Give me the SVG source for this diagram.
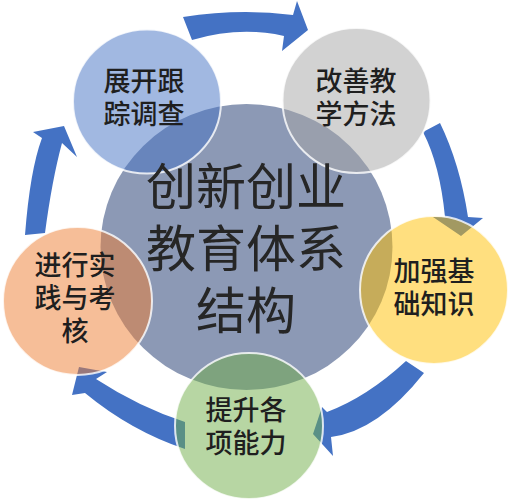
<svg xmlns="http://www.w3.org/2000/svg" width="511" height="500" viewBox="0 0 511 500">
<style>
.arrow{fill:#4472c4;}
.node{fill-opacity:0.5;stroke:#ffffff;stroke-width:2;stroke-opacity:0.8;}
.ct{font-family:"Noto Sans CJK SC","Noto Sans",sans-serif;font-size:50px;fill:#262626;text-anchor:middle;}
.nt{font-family:"Noto Sans CJK SC","Noto Sans",sans-serif;font-size:27px;font-weight:500;fill:#1f1f1f;text-anchor:middle;}
</style>
<rect width="511" height="500" fill="#ffffff"/>
<g id="connectors">
<path class="arrow" d="M183,17 Q240,8 293,15 L297,1 L308,30 L282,51 L284,36 Q240,26 192,40 Z"/>
<path class="arrow" d="M423,132 Q440,165 445,217 L433,217 L461,236 L483,218 L468,217 Q460,164 440,123 Z"/>
<path class="arrow" d="M406,361 Q367,397 327,412 L322,407 L313,434 L333,456 L331,437 Q378,431 424,373 Z"/>
<path class="arrow" d="M185,422 Q139,407 96,379 L107,372 L79,367 L72,395 L85,393 Q131,431 185,449 Z"/>
<path class="arrow" d="M25,235 Q30,170 42,138 L33,132 L64,126 L77,157 L62,143 Q52,180 45,233 Z"/>
</g>
<g id="center">
<ellipse cx="246.5" cy="247" rx="146" ry="143" fill="#8c99b5"/>
</g>
<g id="node-survey">
<ellipse class="node" cx="147" cy="101.5" rx="74" ry="72" fill="#4472c4"/>
</g>
<g id="node-method">
<ellipse class="node" cx="356.5" cy="100.5" rx="74" ry="72.5" fill="#a5a5a5"/>
</g>
<g id="node-basics">
<ellipse class="node" cx="434" cy="290" rx="74" ry="74" fill="#ffc000"/>
</g>
<g id="node-ability">
<ellipse class="node" cx="249" cy="426" rx="74" ry="73" fill="#70ad47"/>
</g>
<g id="node-practice">
<ellipse class="node" cx="77.5" cy="301" rx="74.5" ry="74" fill="#ed7d31"/>
</g>
<g id="labels">
<text class="ct" x="246" y="205">创新创业</text>
<text class="ct" x="246" y="267">教育体系</text>
<text class="ct" x="246" y="329">结构</text>
<text class="nt" x="144" y="91">展开跟</text>
<text class="nt" x="144" y="124">踪调查</text>
<text class="nt" x="356" y="91">改善教</text>
<text class="nt" x="356" y="124">学方法</text>
<text class="nt" x="434" y="281">加强基</text>
<text class="nt" x="434" y="314">础知识</text>
<text class="nt" x="246" y="420">提升各</text>
<text class="nt" x="246" y="453">项能力</text>
<text class="nt" x="75" y="275">进行实</text>
<text class="nt" x="75" y="308">践与考</text>
<text class="nt" x="75" y="341">核</text>
</g>
</svg>
